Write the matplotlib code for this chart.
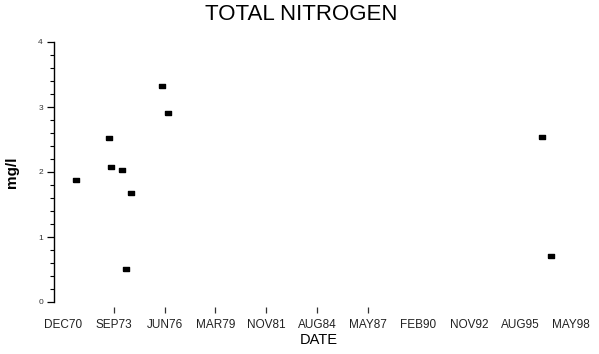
import matplotlib
matplotlib.use("Agg")
import matplotlib.pyplot as plt
from matplotlib.ticker import FixedLocator, MultipleLocator

plt.rcParams['font.family'] = ['Liberation Sans', 'DejaVu Sans']

# sampling dates (decimal years) and total nitrogen (mg/l)
dates = [1971.62, 1973.41, 1973.52, 1974.11, 1974.33, 1974.60,
         1976.28, 1976.60, 1996.85, 1997.34]
nitrogen = [1.87, 2.52, 2.07, 2.03, 0.51, 1.67,
            3.32, 2.91, 2.54, 0.71]

# axis labels every 33 months, DEC70 .. MAY98
tick_labels = ['DEC70', 'SEP73', 'JUN76', 'MAR79', 'NOV81', 'AUG84',
               'MAY87', 'FEB90', 'NOV92', 'AUG95', 'MAY98']
tick_pos = [1970 + 11 / 12 + 2.75 * i for i in range(len(tick_labels))]
marked_ticks = tick_pos[1:7]

fig = plt.figure(figsize=(5.99, 3.54), dpi=100)
W, H = 599, 354
ax = fig.add_axes([54 / W, (H - 302) / H, (590 - 54) / W, 260 / H])

# small rectangle marker
rect = [(-1.4, -1), (1.4, -1), (1.4, 1), (-1.4, 1), (-1.4, -1)]
ax.plot(dates, nitrogen, linestyle='none', marker=rect, markersize=4.9,
        color='black')

ax.set_xlim(1970.43, 1999.45)
ax.set_ylim(0, 4)

for s in ['top', 'right', 'bottom']:
    ax.spines[s].set_visible(False)
ax.spines['left'].set_linewidth(1.0)

# labels on every position, no marks
ax.xaxis.set_major_locator(FixedLocator(tick_pos))
ax.set_xticklabels(tick_labels)
ax.tick_params(axis='x', which='major', length=0, pad=12, labelsize=8.5,
               labelcolor='#222222')

# short marks under SEP73..MAY87, a little below the plot
trans = ax.get_xaxis_transform()
ax.plot(marked_ticks, [-0.029] * len(marked_ticks), linestyle='none',
        marker='|', markersize=4, markeredgewidth=0.9, color='#333333',
        transform=trans, clip_on=False)

ax.yaxis.set_major_locator(MultipleLocator(1))
ax.yaxis.set_minor_locator(MultipleLocator(0.2))
ax.tick_params(axis='y', which='major', length=5, width=0.9, pad=3,
               labelsize=6, labelcolor='#333333')
ax.tick_params(axis='y', which='minor', length=3, width=0.8)

ax.set_ylabel('mg/l', fontsize=11, fontweight='bold')
ax.yaxis.set_label_coords(-0.065, 0.5)
ax.set_xlabel('DATE', fontsize=10.5)
ax.xaxis.set_label_coords(0.494, -0.12)

fig.text(301 / W, 1 - 15 / H, 'TOTAL NITROGEN', ha='center', va='center',
         fontsize=16)

fig.savefig('out.png', dpi=100)
